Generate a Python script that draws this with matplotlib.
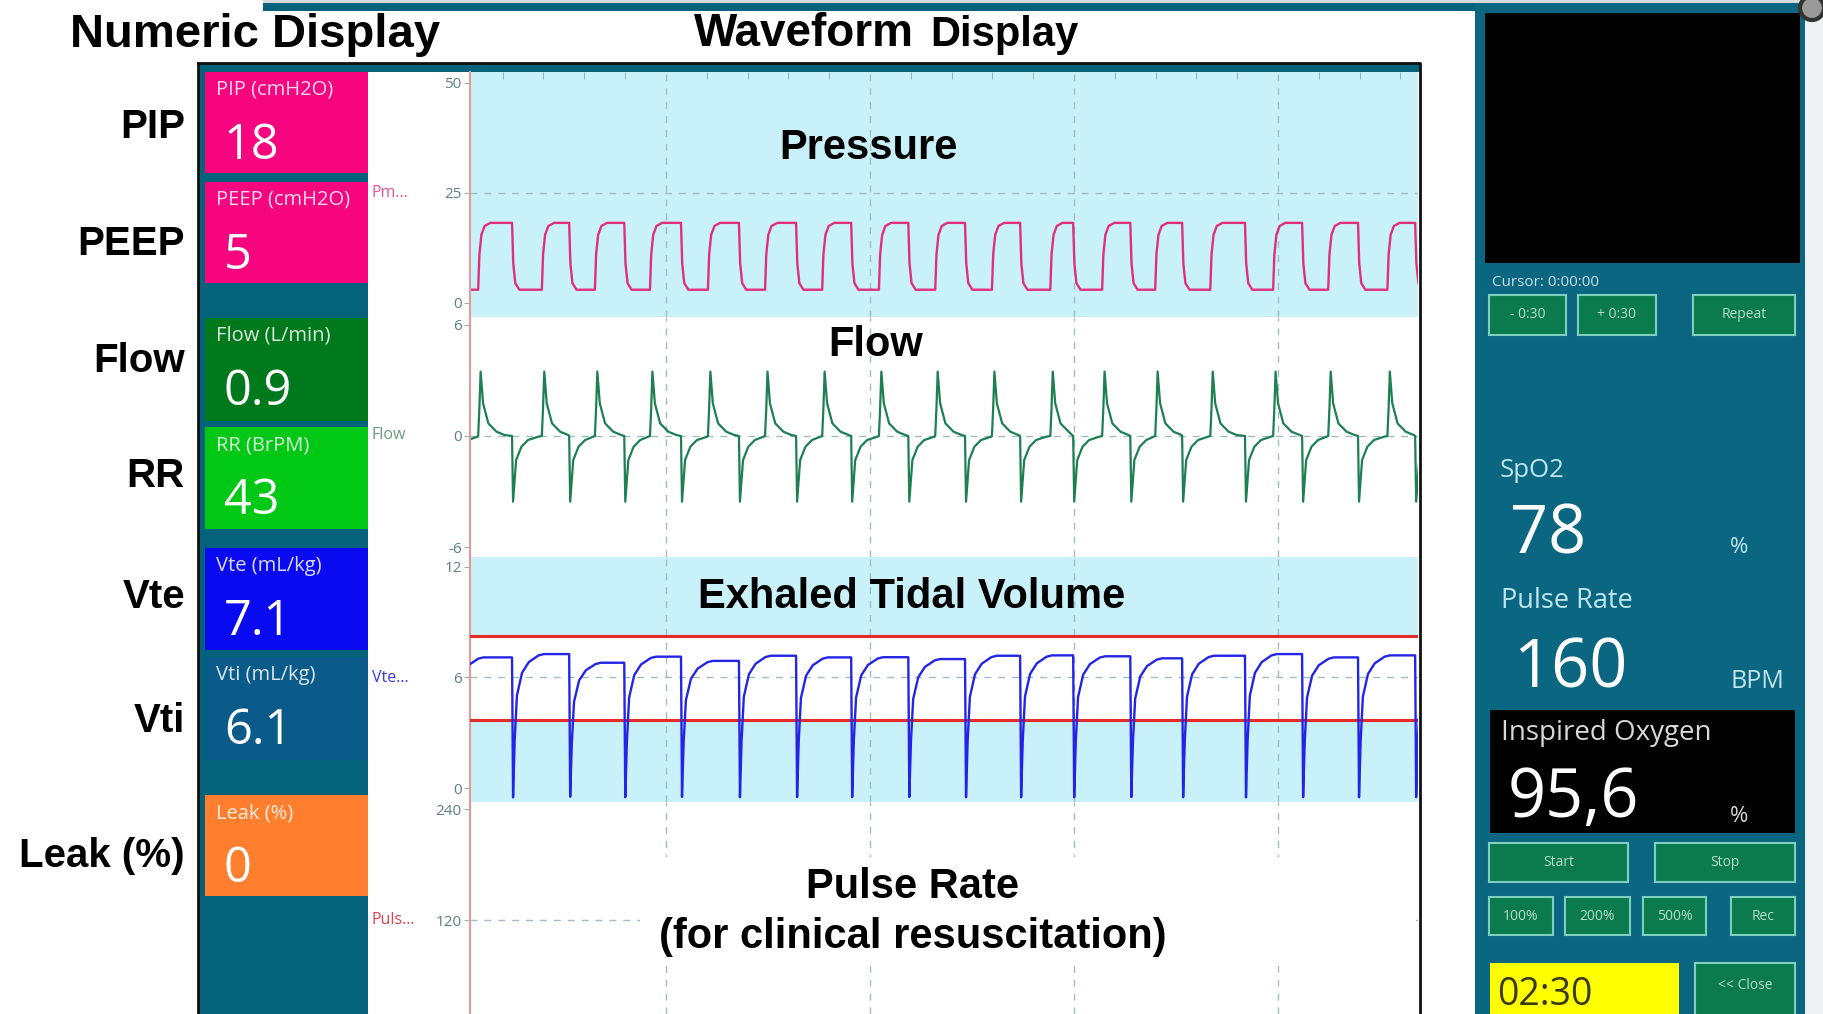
import numpy as np
import matplotlib.pyplot as plt
from matplotlib.patches import Rectangle, Circle

W, H = 1824, 1014

# ---- numeric display (left column) ----
row_labels = ['PIP', 'PEEP', 'Flow', 'RR', 'Vte', 'Vti', 'Leak (%)']
tile_titles = ['PIP (cmH2O)', 'PEEP (cmH2O)', 'Flow (L/min)', 'RR (BrPM)',
               'Vte (mL/kg)', 'Vti (mL/kg)', 'Leak (%)']
tile_values = ['18', '5', '0.9', '43', '7.1', '6.1', '0']
tile_colors = ['#f7047f', '#f7047f', '#00781c', '#00c814', '#0a0af0', '#0a5b89', '#ff7f2e']

# ---- waveform timing in seconds ----
insp_t = [0.40, 1.96, 3.26, 4.61, 6.03, 7.43, 8.83, 10.22, 11.60, 12.99,
          14.42, 15.69, 16.99, 18.34, 19.88, 21.23, 22.68]
exp_t = [-0.25, 1.23, 2.63, 3.98, 5.37, 6.79, 8.19, 9.54, 10.94, 12.33,
         13.68, 14.98, 16.38, 17.65, 19.19, 20.59, 21.96, 23.36]
vte_plateau = [7.09, 7.27, 6.80, 7.13, 6.90, 7.18, 7.09, 7.10, 7.00, 7.18,
               7.20, 7.15, 7.04, 7.18, 7.27, 7.09, 7.20, 7.10]
vte_limits = [3.7, 8.26]

# shape of one breath, relative to inspiration / expiration start
press_rise_dt = [0.0, 0.03, 0.08, 0.16, 0.30]
press_rise_v = [3.0, 11.0, 15.5, 17.5, 18.2]
press_fall_dt = [0.0, 0.03, 0.08, 0.18]
press_fall_v = [18.2, 9.0, 4.5, 3.0]
flow_in_dt = [0.0, 0.03, 0.06, 0.12, 0.25, 0.45, 0.65]
flow_in_v = [0.0, 1.5, 3.48, 1.77, 0.68, 0.23, 0.05]
flow_ex_dt = [0.0, 0.025, 0.10, 0.23, 0.39, 0.64]
flow_ex_v = [0.0, -3.55, -1.3, -0.58, -0.22, -0.04]
vte_rise_dt = [0.025, 0.065, 0.12, 0.245, 0.41, 0.65, 0.78]
vte_rise_frac = [-0.07, 0.36, 0.69, 0.86, 0.94, 0.99, 1.0]

# ---- side monitor ----
spo2 = '78'
pulse_rate = '160'
fio2 = '95,6'
timer = '02:30'

plt.rcParams['font.family'] = ['Open Sans', 'DejaVu Sans']
plt.rcParams['axes.unicode_minus'] = False
HEAD = 'Liberation Sans'
TEAL = '#04637a'
CYAN = '#c9f1f9'
GRID = '#a3bcc3'

# layout in pixels
tile_top = [72, 182, 318, 427, 548, 657, 795]
tile_bot = [173, 283, 421, 529, 650, 760, 896]
label_base = [138, 255, 372, 487, 608, 732, 867]
PX0, PX1 = 470, 1418
T0, T1 = 0.2, 23.43


def trace(events):
    """join breath templates, each one cut where the next event starts"""
    events = sorted(events, key=lambda e: e[0])
    ts, vs = [], []
    for i, (t0, dts, vals) in enumerate(events):
        t_next = events[i + 1][0] if i + 1 < len(events) else np.inf
        for dt, v in zip(dts, vals):
            if t0 + dt < t_next:
                ts.append(t0 + dt)
                vs.append(v)
    return np.array(ts), np.array(vs)


fig = plt.figure(figsize=(W / 100, H / 100), dpi=100)

bg = fig.add_axes([0, 0, 1, 1], zorder=0)
bg.set_xlim(0, W)
bg.set_ylim(H, 0)
bg.axis('off')

top = fig.add_axes([0, 0, 1, 1], zorder=10)
top.set_xlim(0, W)
top.set_ylim(H, 0)
top.axis('off')


def rect(ax, x0, y0, x1, y1, **kw):
    ax.add_patch(Rectangle((x0, y0), x1 - x0, y1 - y0, **kw))


# window chrome at the top
rect(bg, 263, 0, W, 3, color='#d5dadd', lw=0)
rect(bg, 263, 3, 1805, 11, color=TEAL, lw=0)

# titles
bg.text(70, 47, 'Numeric Display', fontsize=34, fontweight='bold', family=HEAD, va='baseline')
bg.text(694, 46, 'Waveform', fontsize=33, fontweight='bold', family=HEAD, va='baseline')
bg.text(930, 46, 'Display', fontsize=30, fontweight='bold', family=HEAD, va='baseline')

# frame of the ventilator screen
rect(bg, 198, 63, 368, H, color=TEAL, lw=0)
rect(bg, 198, 63, 1420, 72, color=TEAL, lw=0)
top.plot([198, 1420, 1420], [63, 63, H], color='#111111', lw=2)
top.plot([198, 198], [63, H], color='#111111', lw=2)

# numeric tiles + row names
for i in range(len(tile_titles)):
    rect(bg, 205, tile_top[i], 368, tile_bot[i], color=tile_colors[i], lw=0)
    bg.text(216, tile_top[i] + 18, tile_titles[i], color='white', alpha=0.85,
            fontsize=14.5, va='center')
    bg.text(224, tile_top[i] + 87, tile_values[i], color='white', fontsize=35,
            va='baseline')
    bg.text(185, label_base[i], row_labels[i], fontsize=29, fontweight='bold',
            family=HEAD, ha='right', va='baseline')

# series names in the white strip
for y, name, c in [(193, 'Pm...', '#e8559a'), (435, 'Flow', '#6a9a80'),
                   (678, 'Vte...', '#3a3ae0'), (920, 'Puls...', '#e04050')]:
    bg.text(372, y, name, color=c, fontsize=11.5, va='center')


def panel(y0, y1, ylim, yticks, face):
    ax = fig.add_axes([PX0 / W, 1 - y1 / H, (PX1 - PX0) / W, (y1 - y0) / H], zorder=2)
    ax.set_xlim(T0, T1)
    ax.set_ylim(*ylim)
    ax.set_facecolor(face)
    for s in ('top', 'right', 'bottom'):
        ax.spines[s].set_visible(False)
    ax.spines['left'].set_color('#e39a9a')
    ax.spines['left'].set_linewidth(1.5)
    ax.set_yticks(yticks)
    ax.tick_params(axis='y', length=4, color='#9ab0b5', labelsize=11,
                   labelcolor='#5c7f86', pad=2)
    ax.set_xticks([5, 10, 15, 20])
    ax.tick_params(axis='x', length=0, labelbottom=False)
    ax.grid(axis='x', color=GRID, ls=(0, (5, 5)), lw=1)
    ax.set_axisbelow(True)
    return ax


dash = dict(color=GRID, ls=(0, (5, 5)), lw=1, zorder=0.5)

# pressure
ax_p = panel(72, 317, (-3.2, 52.5), [0, 25, 50], CYAN)
ax_p.axhline(25, **dash)
ax_p.set_xticks(np.arange(1, 24), minor=True)
ax_p.tick_params(axis='x', which='minor', top=True, bottom=False, direction='in',
                 length=5, color='#8aa7ae')
t, v = trace([(ti, press_rise_dt, press_rise_v) for ti in insp_t] +
             [(te, press_fall_dt, press_fall_v) for te in exp_t])
ax_p.plot(t, v, color='#e0307a', lw=1.7)

# flow
ax_f = panel(317, 557, (-6.54, 6.43), [-6, 0, 6], 'white')
ax_f.axhline(0, **dash)
t, v = trace([(ti, flow_in_dt, flow_in_v) for ti in insp_t] +
             [(te, flow_ex_dt, flow_ex_v) for te in exp_t])
ax_f.plot(t, v, color='#1d7f52', lw=1.6)

# exhaled tidal volume
ax_v = panel(557, 802, (-0.76, 12.54), [0, 6, 12], CYAN)
ax_v.axhspan(vte_limits[0], vte_limits[1], color='white', lw=0, zorder=0.2)
ax_v.axhline(6, **dash)
for lim in vte_limits:
    ax_v.axhline(lim, color='#e52a2a', lw=2.2, zorder=3)
vte_events = []
for k, te in enumerate(exp_t):
    prev = vte_plateau[k - 1] if k else vte_plateau[0]
    vte_events.append((te, [0.0] + vte_rise_dt,
                       [prev] + [f * vte_plateau[k] for f in vte_rise_frac]))
t, v = trace(vte_events)
ax_v.plot(t, v, color='#2424e6', lw=1.7, zorder=4)

# pulse rate (no trace)
ax_r = panel(802, H, (18.4, 247.6), [120, 240], 'white')
ax_r.axhline(120, **dash)

# overlay captions
cap = dict(fontsize=30, fontweight='bold', family=HEAD, ha='center', va='baseline')
top.text(868, 159, 'Pressure', **cap)
top.text(876, 356, 'Flow', **cap)
top.text(912, 608, 'Exhaled Tidal Volume', **cap)
rect(top, 640, 857, 1416, 962, color='white', lw=0)
top.text(913, 898, 'Pulse Rate', **cap)
top.text(913, 948, '(for clinical resuscitation)', **cap)

# ---- right-hand monitor ----
rect(bg, 1475, 3, 1805, H, color='#0b6781', lw=0)
rect(bg, 1805, 11, W, H, color='#eef0f1', lw=0)
rect(bg, 1485, 13, 1800, 263, color='black', lw=0)
bg.add_patch(Circle((1812, 8), 12, facecolor='#9a9a9a', edgecolor='#333333', lw=3))
bg.text(1492, 282, 'Cursor: 0:00:00', color='#c8e0e8', fontsize=11, va='center')

buttons = [('- 0:30', 1489, 295, 1566, 335), ('+ 0:30', 1578, 295, 1656, 335),
           ('Repeat', 1693, 295, 1795, 335), ('Start', 1489, 843, 1628, 882),
           ('Stop', 1655, 843, 1795, 882), ('100%', 1489, 897, 1553, 935),
           ('200%', 1565, 897, 1630, 935), ('500%', 1643, 897, 1706, 935),
           ('Rec', 1731, 897, 1795, 935), ('<< Close', 1695, 963, 1795, 1018)]
for txt, x0, y0, x1, y1 in buttons:
    rect(bg, x0, y0, x1, y1, facecolor='#0b7a4c', edgecolor='#7fcfc0', lw=1.5)
    bg.text((x0 + x1) / 2, (y0 + min(y1, 1008)) / 2, txt, color='#b5e0c8',
            fontsize=10, ha='center', va='center')

light = '#bfe6ee'
bg.text(1500, 477, 'SpO2', color=light, fontsize=18.5, va='baseline')
bg.text(1510, 553, spo2, color='white', fontsize=48, va='baseline')
bg.text(1730, 553, '%', color=light, fontsize=16, va='baseline')
bg.text(1501, 608, 'Pulse Rate', color=light, fontsize=19.5, va='baseline')
bg.text(1513, 687, pulse_rate, color='white', fontsize=48, va='baseline')
bg.text(1731, 688, 'BPM', color=light, fontsize=18, va='baseline')

rect(bg, 1490, 710, 1795, 833, color='black', lw=0)
bg.text(1501, 740, 'Inspired Oxygen', color='#d8d8d8', fontsize=20, va='baseline')
bg.text(1508, 817, fio2, color='white', fontsize=48, va='baseline')
bg.text(1730, 822, '%', color='#d8d8d8', fontsize=16, va='baseline')

rect(bg, 1490, 963, 1679, 1018, color='#ffff00', lw=0)
bg.text(1497, 1005, timer, color='#3a3a10', fontsize=27, va='baseline')

fig.savefig('out.png', dpi=100)
